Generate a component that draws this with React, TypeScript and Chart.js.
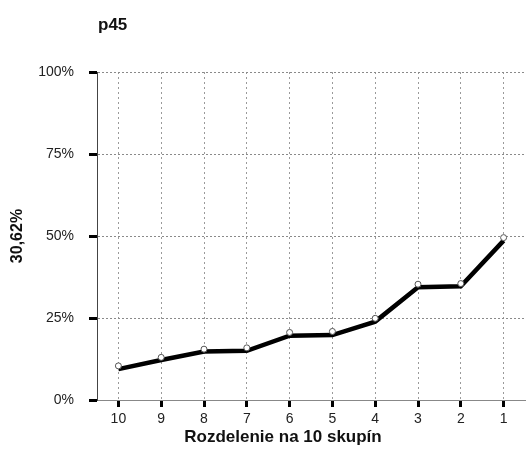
import React, { useEffect, useRef } from "react";
import { Chart, registerables } from "chart.js";

Chart.register(...registerables);

const categories = ["10", "9", "8", "7", "6", "5", "4", "3", "2", "1"];
const lineValues = [9.4, 12.2, 14.8, 15.0, 19.6, 19.8, 23.9, 34.4, 34.7, 48.6];
const markerValues = [10.4, 13.0, 15.5, 15.9, 20.6, 20.9, 24.9, 35.3, 35.5, 49.5];
const yTicks = [0, 25, 50, 75, 100];
const chartTitle = "p45";
const xTitle = "Rozdelenie na 10 skupín";
const yTitle = "30,62%";

const FONT = '"Liberation Sans", Arial, sans-serif';

export default function App() {
  const ref = useRef<HTMLCanvasElement | null>(null);

  useEffect(() => {
    if (!ref.current) return;
    const textPlugin = {
      id: "texts",
      afterDraw(chart: any) {
        const { ctx, chartArea } = chart;
        ctx.save();
        ctx.fillStyle = "#111";
        ctx.font = `bold 17px ${FONT}`;
        ctx.textAlign = "left";
        ctx.textBaseline = "alphabetic";
        ctx.fillText(chartTitle, chartArea.left + 1, 30);
        ctx.textAlign = "center";
        ctx.fillText(xTitle, 283, 442);
        ctx.restore();
      },
    };

    const chart = new Chart(ref.current, {
      type: "line",
      data: {
        labels: categories,
        datasets: [
          {
            data: markerValues,
            showLine: false,
            pointStyle: "circle",
            pointRadius: 3,
            pointBorderWidth: 1,
            pointBorderColor: "#555",
            pointBackgroundColor: "#fff",
            order: 0,
          },
          {
            data: lineValues,
            borderColor: "#000",
            borderWidth: 4.5,
            pointRadius: 0,
            tension: 0,
            fill: false,
            order: 1,
          },
        ],
      },
      options: {
        animation: false,
        responsive: false,
        devicePixelRatio: 1,
        layout: { padding: { top: 72, left: 0, right: 0, bottom: 0 } },
        plugins: {
          legend: { display: false },
          tooltip: { enabled: false },
          title: { display: false },
        },
        scales: {
          x: {
            offset: true,
            afterFit: (s: any) => {
              s.height = 52;
            },
            grid: {
              offset: false,
              color: "#9a9a9a",
              lineWidth: 1,
              tickColor: "#000",
              tickWidth: 3,
              tickLength: 7,
              drawTicks: true,
            },
            border: { display: true, color: "#888", width: 1, dash: [2, 3] },
            ticks: {
              color: "#222",
              font: { family: FONT, size: 14 },
              padding: 4,
              maxRotation: 0,
              autoSkip: false,
            },
          },
          y: {
            min: 0,
            max: 100,
            afterFit: (s: any) => {
              s.width = 97;
            },
            afterBuildTicks: (s: any) => {
              s.ticks = yTicks.map((v) => ({ value: v }));
            },
            grid: {
              color: "#8a8a8a",
              lineWidth: 1,
              tickColor: "#000",
              tickWidth: 3,
              tickLength: 8,
              drawTicks: true,
            },
            border: { display: true, color: "#444", width: 1, dash: [2, 2] },
            ticks: {
              color: "#222",
              font: { family: FONT, size: 14 },
              padding: 15,
              callback: (v: any) => `${v}%`,
            },
            title: {
              display: true,
              text: yTitle,
              color: "#111",
              font: { family: FONT, size: 16, weight: "bold" },
              padding: { top: 8, bottom: 0 },
            },
          },
        },
      },
      plugins: [textPlugin],
    } as any);
    return () => chart.destroy();
  }, []);

  return (
    <div style={{ position: "absolute", left: 0, top: 0, width: 530, height: 452, background: "#fff" }}>
      <canvas ref={ref} width={530} height={452} style={{ display: "block" }} />
    </div>
  );
}
